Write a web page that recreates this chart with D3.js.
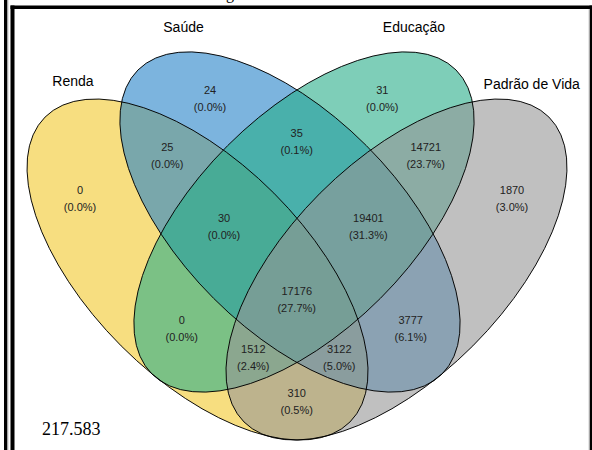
<!DOCTYPE html>
<html>
<head>
<meta charset="utf-8">
<script src="https://cdn.jsdelivr.net/npm/d3@7"></script>
<style>
  html, body { margin: 0; padding: 0; background: #fff; }
  svg { display: block; }
</style>
</head>
<body>
<svg id="chart" width="592" height="450"></svg>
<script>
// ---- data ----
const categories = ["Renda", "Saúde", "Educação", "Padrão de Vida"];
const categoryColors = ["#F2C82B", "#2582C8", "#28AD89", "#969696"];

// each region of the four-set diagram: the sets it belongs to, and its count
const regionSets = [
  ["Renda"],
  ["Saúde"],
  ["Educação"],
  ["Padrão de Vida"],
  ["Renda", "Saúde"],
  ["Saúde", "Educação"],
  ["Educação", "Padrão de Vida"],
  ["Renda", "Saúde", "Educação"],
  ["Saúde", "Educação", "Padrão de Vida"],
  ["Renda", "Saúde", "Educação", "Padrão de Vida"],
  ["Renda", "Educação"],
  ["Saúde", "Padrão de Vida"],
  ["Renda", "Educação", "Padrão de Vida"],
  ["Renda", "Saúde", "Padrão de Vida"],
  ["Renda", "Padrão de Vida"]
];
const regionCounts = [0, 24, 31, 1870, 25, 35, 14721, 30, 19401, 17176, 0, 3777, 1512, 3122, 310];
const totalNote = "217.583";

// ---- layout (unit square frame) ----
const ellipseLayout = [
  { cx: 0.2513, cy: 0.5538, rx: 0.539, ry: 0.27, angle: 45 },
  { cx: 0.4825, cy: 0.4350, rx: 0.5375, ry: 0.27, angle: 45 },
  { cx: 0.5175, cy: 0.4350, rx: 0.5375, ry: 0.27, angle: -45 },
  { cx: 0.7487, cy: 0.5538, rx: 0.539, ry: 0.27, angle: -45 }
];
const categoryLabelPos = [
  { x: -0.0600, y: 0.0950 },
  { x: 0.2163, y: -0.0400 },
  { x: 0.7925, y: -0.0400 },
  { x: 1.0868, y: 0.1025 }
];
const regionLabelPos = [
  { x: -0.0425, y: 0.3550 },
  { x: 0.2825, y: 0.1050 },
  { x: 0.7133, y: 0.1050 },
  { x: 1.0375, y: 0.3550 },
  { x: 0.1758, y: 0.2468 },
  { x: 0.4993, y: 0.2133 },
  { x: 0.8218, y: 0.2468 },
  { x: 0.3175, y: 0.4258 },
  { x: 0.6783, y: 0.4258 },
  { x: 0.4993, y: 0.6068 },
  { x: 0.2118, y: 0.6800 },
  { x: 0.7843, y: 0.6800 },
  { x: 0.3908, y: 0.7525 },
  { x: 0.6058, y: 0.7525 },
  { x: 0.4993, y: 0.8618 }
];

const svg = d3.select("#chart");
const x = d3.scaleLinear().domain([0, 1]).range([97, 497]);
const y = d3.scaleLinear().domain([0, 1]).range([48, 448]);
const len = d3.scaleLinear().domain([0, 1]).range([0, 400]);
const color = d3.scaleOrdinal().domain(categories).range(categoryColors);

// ---- frame ----
const frame = svg.append("g").attr("fill", "#000");
frame.append("rect").attr("x", 4).attr("y", 0).attr("width", 3.5).attr("height", 450);
frame.append("rect").attr("x", 7.5).attr("y", 0).attr("width", 1).attr("height", 450).attr("fill", "#c8c8c8");
frame.append("rect").attr("x", 10.5).attr("y", 5.5).attr("width", 4).attr("height", 444.5);
frame.append("rect").attr("x", 10.5).attr("y", 5.5).attr("width", 581.5).attr("height", 3.5);
frame.append("rect").attr("x", 589.5).attr("y", 5.5).attr("width", 2.5).attr("height", 444.5);
frame.append("rect").attr("x", 588.5).attr("y", 9).attr("width", 1).attr("height", 441).attr("fill", "#d0d0d0");

// caption running above the frame (only its descender shows)
svg.append("text")
  .attr("x", 226).attr("y", -1)
  .attr("font-family", "'Liberation Serif', 'Times New Roman', serif")
  .attr("font-size", 16)
  .attr("fill", "#000")
  .text("g");

// ---- ellipses ----
const sets = categories.map((c, i) => Object.assign({ name: c }, ellipseLayout[i]));

const ellipseAttrs = sel => sel
  .attr("cx", d => x(d.cx))
  .attr("cy", d => y(d.cy))
  .attr("rx", d => len(d.rx))
  .attr("ry", d => len(d.ry))
  .attr("transform", d => `rotate(${d.angle},${x(d.cx)},${y(d.cy)})`);

svg.append("g").selectAll("ellipse").data(sets).join("ellipse")
  .call(ellipseAttrs)
  .attr("fill", d => color(d.name))
  .attr("fill-opacity", 0.6)
  .attr("stroke", "none");

svg.append("g").selectAll("ellipse").data(sets).join("ellipse")
  .call(ellipseAttrs)
  .attr("fill", "none")
  .attr("stroke", "#000")
  .attr("stroke-width", 0.9);

// ---- category labels ----
svg.append("g").selectAll("text").data(categories).join("text")
  .attr("x", (d, i) => x(categoryLabelPos[i].x))
  .attr("y", (d, i) => y(categoryLabelPos[i].y))
  .attr("text-anchor", "middle")
  .attr("font-family", "'Liberation Sans', Arial, sans-serif")
  .attr("font-size", 14)
  .attr("fill", "#000")
  .text(d => d);

// ---- region counts and shares ----
const total = d3.sum(regionCounts);
const regions = regionSets.map((s, i) => ({
  sets: s,
  count: regionCounts[i],
  share: regionCounts[i] / total,
  pos: regionLabelPos[i]
}));

const lbl = svg.append("g")
  .attr("font-family", "'Liberation Sans', Arial, sans-serif")
  .attr("font-size", 11)
  .attr("fill", "#222")
  .attr("text-anchor", "middle")
  .selectAll("g").data(regions).join("g")
  .attr("transform", d => `translate(${x(d.pos.x)},${y(d.pos.y)})`);

lbl.append("text").attr("y", 4).text(d => d.count);
lbl.append("text").attr("y", 21).text(d => `(${(d.share * 100).toFixed(1)}%)`);

// ---- note ----
svg.append("text")
  .attr("x", 42).attr("y", 435)
  .attr("font-family", "'Liberation Serif', 'Times New Roman', serif")
  .attr("font-size", 18)
  .attr("fill", "#000")
  .text(totalNote);
</script>
</body>
</html>
